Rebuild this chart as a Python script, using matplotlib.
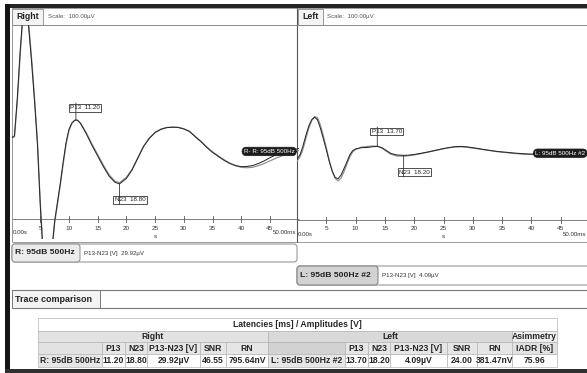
import numpy as np
import matplotlib
matplotlib.use('Agg')
import matplotlib.pyplot as plt
from matplotlib.patches import Rectangle, FancyBboxPatch
from matplotlib import transforms

plt.rcParams['font.family'] = ['Liberation Sans', 'DejaVu Sans']

W, H = 587, 373

# ---------------- data ----------------
# Right ear (left panel) - time [ms], amplitude [uV], two overlaid traces
right_ear_t = [0.0, 0.5, 1.0, 1.5, 2.0, 2.5, 3.0, 3.5, 4.0, 4.5, 5.0, 5.5, 6.0, 6.5, 7.0, 7.5,
               8.0, 8.5, 9.0, 9.5, 10.0, 10.5, 11.0, 11.2, 11.5, 12.0, 13.0, 14.0, 15.0, 16.0,
               17.0, 18.0, 18.8, 20.0, 21.0, 22.0, 23.0, 24.0, 25.0, 26.0, 27.0, 28.0, 29.0,
               30.0, 31.0, 32.0, 33.0, 34.0, 35.0, 36.0, 37.0, 38.0, 39.0, 40.0, 41.0, 42.0,
               43.0, 44.0, 45.0, 46.0, 47.0, 48.0, 49.0, 50.0]
right_ear_v1 = [-3, -2, 16, 38, 56, 63, 48, 32, 14, -6, -35, -58, -66, -65, -56, -42,
                -33, -24, -14, -5, 1, 4, 5.3, 5.4, 5.3, 3.8, -1, -6.5, -11.5, -16.5,
                -21, -23.8, -24.6, -22, -18, -12.5, -7, -3.2, -0.5, 1, 1.8, 2, 1.9,
                1.2, 0, -2.5, -4.8, -7.5, -9.8, -11.7, -13.5, -15, -16, -16.5, -16.4, -16,
                -15, -13.8, -12.3, -11, -10, -9.2, -8.6, -8]
right_ear_v2 = [-3, -2.5, 14, 36, 55, 63, 50, 34, 16, -4, -33, -57, -66, -66, -57, -43,
                -34, -25, -15, -6, 0.5, 3.8, 5.2, 5.3, 5.2, 4.0, -0.5, -5.8, -10.8, -15.8,
                -20.3, -23.3, -24.0, -21.5, -17.6, -12.2, -6.8, -3.0, -0.4, 1.1, 1.9, 2.1, 2.0,
                1.3, 0.1, -2.3, -4.6, -7.2, -9.5, -11.4, -13.2, -14.8, -16.0, -16.8, -17.0, -16.8,
                -16.0, -15.0, -13.8, -12.6, -11.5, -10.5, -9.6, -9.0]

# Left ear (right panel)
left_ear_t = [0.0, 0.5, 1.0, 1.5, 2.0, 2.5, 3.0, 3.5, 4.0, 4.5, 5.0, 5.5, 6.0, 6.5, 7.0, 7.5,
              8.0, 8.5, 9.0, 9.5, 10.0, 11.0, 12.0, 13.0, 13.7, 14.5, 15.0, 16.0, 17.0, 18.2,
              19.0, 20.0, 21.0, 22.0, 23.0, 24.0, 25.0, 26.0, 27.0, 28.0, 29.0, 30.0, 31.0,
              32.0, 33.0, 34.0, 35.0, 36.0, 37.0, 38.0, 39.0, 40.0, 41.0, 42.0, 43.0, 44.0,
              45.0, 46.0, 47.0, 48.0, 49.5]
left_ear_v1 = [-13, -11, -7, -2, 2.5, 5.5, 6.7, 5.5, 1.5, -3.5, -8.5, -14, -18.5, -21.5, -22.2, -20.5,
               -17.5, -14.4, -11, -9, -8.2, -7.6, -7.5, -7.1, -7.0, -7.6, -8.5, -10.3, -11.0, -11.2,
               -11.1, -10.8, -10.3, -9.8, -9.2, -8.6, -8.0, -7.5, -7.1, -7.0, -7.2, -7.6, -8.0,
               -8.5, -8.9, -9.3, -9.6, -9.8, -10.1, -10.3, -10.5, -10.6, -10.5, -10.4, -10.3, -10.3,
               -10.2, -10.2, -10.2, -10.2, -10.2]
left_ear_v2 = [-14, -12, -8.5, -3.5, 1.5, 5.0, 7.0, 6.5, 3.0, -2.0, -7.5, -13.5, -18.5, -22.0, -23.2, -22.0,
               -19.0, -15.5, -12.0, -9.6, -8.4, -7.3, -7.0, -6.8, -6.9, -7.8, -8.8, -10.6, -11.5, -11.6,
               -11.4, -11.0, -10.5, -9.9, -9.3, -8.7, -8.1, -7.6, -7.3, -7.2, -7.4, -7.8, -8.2,
               -8.6, -9.0, -9.4, -9.7, -10.0, -10.3, -10.5, -10.7, -10.8, -10.7, -10.6, -10.5, -10.4,
               -10.3, -10.3, -10.3, -10.3, -10.3]

right_ear_peaks = [('P13', 11.20), ('N23', 18.80)]
left_ear_peaks = [('P13', 13.70), ('N23', 18.20)]
tick_ms = [5, 10, 15, 20, 25, 30, 35, 40, 45]

right_ear_name = 'R: 95dB 500Hz'
left_ear_name = 'L: 95dB 500Hz #2'
right_amp = '29.92µV'
left_amp = '4.09µV'

table_headers = ['P13', 'N23', 'P13-N23 [V]', 'SNR', 'RN']
right_row = ['11.20', '18.80', '29.92µV', '46.55', '795.64nV']
left_row = ['13.70', '18.20', '4.09µV', '24.00', '381.47nV']
iadr = '75.96'

# ---------------- figure ----------------
fig = plt.figure(figsize=(W / 100, H / 100), dpi=100)
fig.patch.set_facecolor('white')
bg = fig.add_axes([0, 0, 1, 1], zorder=0)
bg.set_xlim(0, W)
bg.set_ylim(H, 0)
bg.axis('off')

LINE = '#8c8c8c'


def rect(x0, y0, x1, y1, fc='none', ec=LINE, lw=0.6, z=1):
    bg.add_patch(Rectangle((x0, y0), x1 - x0, y1 - y0, fc=fc, ec=ec, lw=lw, zorder=z))


def rrect(x0, y0, x1, y1, fc='none', ec=LINE, lw=0.6, z=1, r=3):
    bg.add_patch(FancyBboxPatch((x0, y0), x1 - x0, y1 - y0,
                                boxstyle=f'round,pad=0,rounding_size={r}',
                                fc=fc, ec=ec, lw=lw, zorder=z))


def hline(y, x0, x1, c=LINE, lw=0.6, z=2):
    bg.plot([x0, x1], [y, y], color=c, lw=lw, zorder=z, solid_capstyle='butt')


def vline(x, y0, y1, c=LINE, lw=0.6, z=2):
    bg.plot([x, x], [y0, y1], color=c, lw=lw, zorder=z, solid_capstyle='butt')


def txt(x, y, s, size=5, bold=False, ha='left', color='#222', z=5):
    bg.text(x, y, s, fontsize=size, fontweight='bold' if bold else 'normal',
            ha=ha, va='center', color=color, zorder=z)


# outer frame
rect(5, 3.5, W + 2, 7.5, fc='#252525', ec='none', z=6)
rect(5, 3.5, 10, H + 1, fc='#151515', ec='none', z=6)
rect(5, 369, W + 2, H + 1, fc='#303030', ec='none', z=6)

# panel frames
rect(12, 8, 297, 242, ec='#9a9a9a', lw=0.7)
rect(297, 8, W + 2, 242, ec='#9a9a9a', lw=0.7)
vline(297, 8, 242, c='#555555', lw=0.8)
hline(24.5, 12, W, c='#8a8a8a', lw=0.7)
# headers
rect(12, 8.5, 43, 24.5, fc='#f4f4f4', ec='#8a8a8a', lw=0.6)
txt(27.5, 16.5, 'Right', 6.3, True, 'center')
txt(48, 16.5, 'Scale:  100.00µV', 4.4, color='#555555')
rect(297.5, 8.5, 323, 24.5, fc='#f4f4f4', ec='#8a8a8a', lw=0.6)
txt(310.2, 16.5, 'Left', 6.3, True, 'center')
txt(327, 16.5, 'Scale:  100.00µV', 4.4, color='#555555')


def make_panel(x0, x1, tmax, axis_y, end_x):
    ax = fig.add_axes([x0 / W, 1 - 238.5 / H, (x1 - x0) / W, 214 / H], zorder=2)
    ax.set_xlim(0, tmax)
    ax.set_ylim(-50.2, 50.2)
    ax.patch.set_alpha(0)
    ax.axis('off')
    blend = transforms.blended_transform_factory(ax.transData, bg.transData)
    hline(axis_y, x0, min(x1, W), c='#6a6a6a', lw=0.6)
    for t in tick_ms:
        ax.plot([t, t], [axis_y - 3, axis_y + 3], color='#555555', lw=0.6,
                transform=blend, clip_on=False, zorder=3)
        ax.text(t, axis_y + 9, str(t), transform=blend, fontsize=4.6,
                ha='center', va='center', color='#333333', clip_on=False)
    ax.text(0.2, axis_y + 14, '0.00s', transform=blend, fontsize=4.4,
            ha='left', va='center', color='#333333')
    ax.text(25, axis_y + 17, 's', transform=blend, fontsize=4.6,
            ha='center', va='center', color='#333333')
    bg.text(end_x, axis_y + 14, '50.00ms', fontsize=4.4,
            ha='right', va='center', color='#333333', zorder=5)
    return ax


axL = make_panel(11.6, 298.6, 50.0, 219, 296.5)
axR = make_panel(297.0, 587.0, 290 / 5.86, 220, 586)


def draw_traces(ax, t, v1, v2, peaks, name, tend, gaps):
    ax.plot(t, v2, color='#8e8e8e', lw=0.85, zorder=3)
    ax.plot(t, v1, color='#2a2a2a', lw=0.75, zorder=4)
    for (lab, lat), (gap, dx) in zip(peaks, gaps):
        v = float(np.interp(lat, t, v1))
        up = lab.startswith('P')
        sgn = 1 if up else -1
        ax.annotate(f'{lab}  {lat:.2f}', xy=(lat, v),
                    xytext=(dx + 1.3, sgn * (gap + 1.3)), textcoords='offset pixels',
                    ha='left', va='bottom' if up else 'top', fontsize=4.5, color='#222',
                    bbox=dict(boxstyle='square,pad=0.22', fc='white', ec='#333333', lw=0.6),
                    zorder=6, annotation_clip=False)
        ax.annotate('', xy=(lat, v), xytext=(0, sgn * (gap + 8.5)),
                    textcoords='offset pixels',
                    arrowprops=dict(arrowstyle='-', color='#333333', lw=0.6,
                                    shrinkA=0, shrinkB=0), zorder=7)
    yl = float(np.mean(v1[-5:]))
    ax.text(tend, yl, name, fontsize=4.5, color='white', ha='right', va='center',
            bbox=dict(boxstyle='round,pad=0.28,rounding_size=0.7', fc='#1c1c1c',
                      ec='#1c1c1c', lw=0.5), zorder=8, clip_on=False)


draw_traces(axL, right_ear_t, right_ear_v1, right_ear_v2, right_ear_peaks,
            'R- ' + right_ear_name, 49.3, [(8.5, -7), (12, -6)])
draw_traces(axR, left_ear_t, left_ear_v1, left_ear_v2, left_ear_peaks,
            left_ear_name, 49.2, [(11, -7), (13, -6)])

# ---------------- info boxes ----------------
rrect(12, 244, 297, 262, fc='white', ec='#8a8a8a', lw=0.7, r=3)
rrect(12, 244, 80, 262, fc='#ececec', ec='#8a8a8a', lw=0.7, r=3)
txt(15, 253, right_ear_name, 6.1, True)
txt(84, 253, 'P13-N23 [V]  ' + right_amp, 4.4, color='#333333')

rrect(297, 266, W + 6, 285, fc='white', ec='#8a8a8a', lw=0.7, r=3)
rrect(297, 266, 378, 285, fc='#d2d2d2', ec='#7a7a7a', lw=0.7, r=3)
txt(300, 275.5, left_ear_name, 6.1, True)
txt(382, 275.5, 'P13-N23 [V]  ' + left_amp, 4.4, color='#333333')

hline(290, 12, W, c='#7a7a7a', lw=0.8)
hline(308, 12, W, c='#7a7a7a', lw=0.8)
rect(12, 290, 100, 308, fc='#f3f3f3', ec='#7a7a7a', lw=0.7)
txt(15, 299, 'Trace comparison', 6.5, True)

# ---------------- table ----------------
cols_R = [38, 102, 125, 147, 200, 226, 268]
cols_L = [268, 345, 368, 390, 447, 477, 512]
x_end = 557
rows = [318, 331, 342, 354, 367]
GRID = '#b5b5b5'


def cell(x0, x1, y0, y1, s='', fc='white', size=6.2):
    rect(x0, y0, x1, y1, fc=fc, ec=GRID, lw=0.5, z=2)
    if s:
        txt((x0 + x1) / 2, (y0 + y1) / 2 + 0.3, s, size, True, 'center', '#262626')


cell(38, x_end, rows[0], rows[1], 'Latencies [ms] / Amplitudes [V]', 'white')
cell(cols_R[0], cols_R[-1], rows[1], rows[2], 'Right', '#e2e2e2')
cell(cols_L[0], cols_L[-1], rows[1], rows[2], 'Left', '#d9d9d9')
cell(cols_L[-1], x_end, rows[1], rows[2], 'Asimmetry', '#eeeeee')

cell(cols_R[0], cols_R[1], rows[2], rows[3], '', '#e2e2e2')
for i, hname in enumerate(table_headers):
    cell(cols_R[i + 1], cols_R[i + 2], rows[2], rows[3], hname, '#e6e6e6')
cell(cols_L[0], cols_L[1], rows[2], rows[3], '', '#d2d2d2')
for i, hname in enumerate(table_headers):
    cell(cols_L[i + 1], cols_L[i + 2], rows[2], rows[3], hname, '#e6e6e6')
cell(cols_L[-1], x_end, rows[2], rows[3], 'IADR [%]', '#e2e2e2')

cell(cols_R[0], cols_R[1], rows[3], rows[4], right_ear_name, '#e6e6e6')
for i, val in enumerate(right_row):
    cell(cols_R[i + 1], cols_R[i + 2], rows[3], rows[4], val, 'white')
cell(cols_L[0], cols_L[1], rows[3], rows[4], left_ear_name, '#e6e6e6')
for i, val in enumerate(left_row):
    cell(cols_L[i + 1], cols_L[i + 2], rows[3], rows[4], val, 'white')
cell(cols_L[-1], x_end, rows[3], rows[4], iadr, 'white')

fig.savefig('out.png', dpi=100, facecolor='white')
